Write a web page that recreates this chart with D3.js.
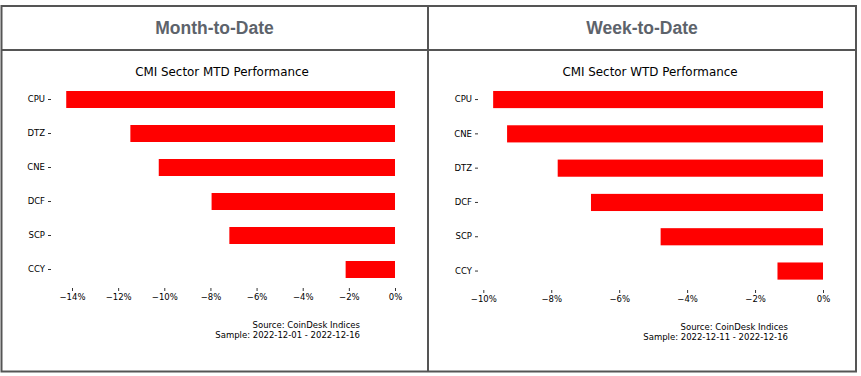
<!DOCTYPE html>
<html>
<head>
<meta charset="utf-8">
<script src="https://cdn.jsdelivr.net/npm/d3@7"></script>
<style>
  body { margin: 0; background: #fff; }
  svg { display: block; }
  .tick text { font-family: "DejaVu Sans", sans-serif; font-size: 8.5px; fill: #000; }
  .tick line { stroke: #000; stroke-width: 0.8; }
</style>
</head>
<body>
<svg width="861" height="376"></svg>
<script>
// sectors and returns (%)
var mtdSectors = ["CPU", "DTZ", "CNE", "DCF", "SCP", "CCY"];
var mtdValues = [-14.25, -11.47, -10.24, -7.95, -7.18, -2.14];
var mtdTicks = [-14, -12, -10, -8, -6, -4, -2, 0];

var wtdSectors = ["CPU", "CNE", "DTZ", "DCF", "SCP", "CCY"];
var wtdValues = [-9.71, -9.30, -7.81, -6.83, -4.78, -1.34];
var wtdTicks = [-10, -8, -6, -4, -2, 0];

var headers = ["Month-to-Date", "Week-to-Date"];
var titles = ["CMI Sector MTD Performance", "CMI Sector WTD Performance"];
var sources = [
    ["Source: CoinDesk Indices", "Sample: 2022-12-01 - 2022-12-16"],
    ["Source: CoinDesk Indices", "Sample: 2022-12-11 - 2022-12-16"]
];

var svg = d3.select("svg");

// panel frame
var frame = svg.append("g")
    .attr("fill", "none")
    .attr("stroke", "#555")
    .attr("stroke-width", 2);
frame.append("rect").attr("x", 1.5).attr("y", 6).attr("width", 854.5).attr("height", 365.5);
frame.append("line").attr("x1", 428).attr("x2", 428).attr("y1", 6).attr("y2", 371.5);
frame.append("line").attr("x1", 1.5).attr("x2", 856).attr("y1", 50).attr("y2", 50);

svg.selectAll(".header")
    .data(headers)
    .join("text")
    .attr("class", "header")
    .attr("x", (d, i) => i == 0 ? 214.5 : 642)
    .attr("y", 34)
    .attr("text-anchor", "middle")
    .attr("font-family", "Liberation Sans, Arial, sans-serif")
    .attr("font-weight", "bold")
    .attr("font-size", 17.5)
    .attr("fill", "#5d636b")
    .text(d => d);

function drawChart(cfg) {
    var x = d3.scaleLinear()
        .domain([cfg.ticks[0], 0])
        .range(cfg.xr);

    var y = d3.scaleBand()
        .domain(cfg.sectors)
        .range(cfg.yr)
        .paddingInner(0.5)
        .paddingOuter(0.25);

    var g = svg.append("g");

    g.append("text")
        .attr("x", cfg.titleX)
        .attr("y", 76)
        .attr("text-anchor", "middle")
        .attr("font-family", "DejaVu Sans, sans-serif")
        .attr("font-size", 11.9)
        .attr("fill", "#000")
        .text(cfg.title);

    g.selectAll(".bar")
        .data(cfg.values)
        .join("rect")
        .attr("class", "bar")
        .attr("x", d => x(d))
        .attr("y", (d, i) => y(cfg.sectors[i]))
        .attr("width", d => x(0) - x(d))
        .attr("height", y.bandwidth())
        .attr("fill", "#ff0000");

    var xa = g.append("g")
        .attr("transform", "translate(0," + cfg.axisY + ")")
        .call(d3.axisBottom(x)
            .tickValues(cfg.ticks)
            .tickSize(3)
            .tickPadding(3)
            .tickFormat(d => (d < 0 ? "\u2212" : "") + Math.abs(d) + "%"));
    xa.select(".domain").remove();

    var ya = g.append("g")
        .attr("transform", "translate(" + cfg.axisX + ",0)")
        .call(d3.axisLeft(y).tickSize(3).tickPadding(3));
    ya.select(".domain").remove();

    g.append("text")
        .attr("x", cfg.srcX)
        .attr("y", cfg.srcY)
        .attr("text-anchor", "end")
        .attr("font-family", "DejaVu Sans, sans-serif")
        .attr("font-size", 8.5)
        .attr("fill", "#000")
        .selectAll("tspan")
        .data(cfg.source)
        .join("tspan")
        .attr("x", cfg.srcX)
        .attr("dy", (d, i) => i == 0 ? 0 : 10)
        .text(d => d);
}

drawChart({
    sectors: mtdSectors, values: mtdValues, ticks: mtdTicks,
    title: titles[0], source: sources[0],
    xr: [72, 395], yr: [82.5, 286.5],
    axisY: 288, axisX: 51, titleX: 222, srcX: 360, srcY: 327.5
});

drawChart({
    sectors: wtdSectors, values: wtdValues, ticks: wtdTicks,
    title: titles[1], source: sources[1],
    xr: [483.3, 823], yr: [82.4, 288.2],
    axisY: 290, axisX: 478, titleX: 650, srcX: 788, srcY: 329.5
});
</script>
</body>
</html>
